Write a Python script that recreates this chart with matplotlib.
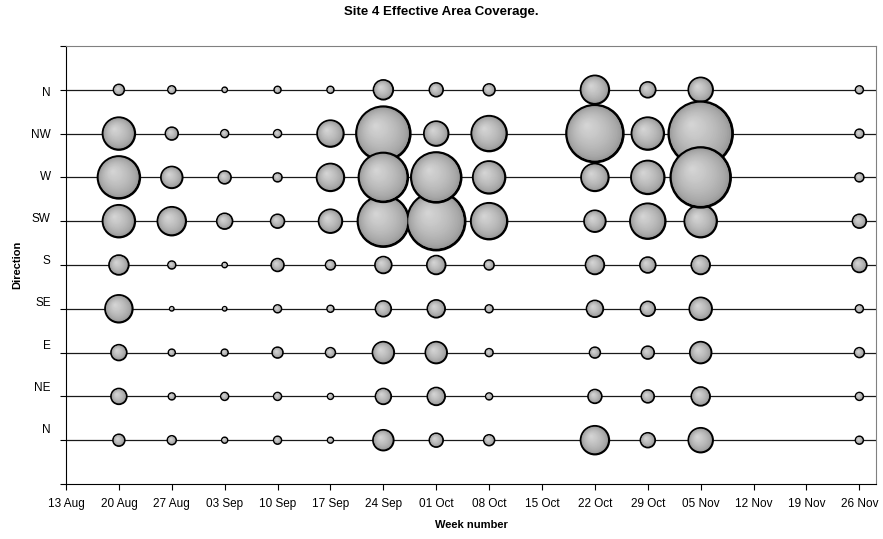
import numpy as np
import pandas as pd
import matplotlib
matplotlib.use("Agg")
import matplotlib.pyplot as plt
import matplotlib.dates as mdates

plt.rcParams['font.family'] = ['Liberation Sans', 'DejaVu Sans']

# weeks with data (13 Aug .. 26 Nov axis)
weeks = pd.to_datetime(["2007-08-20", "2007-08-27", "2007-09-03", "2007-09-10",
                        "2007-09-17", "2007-09-24", "2007-10-01", "2007-10-08",
                        "2007-10-22", "2007-10-29", "2007-11-05", "2007-11-26"])
tick_weeks = pd.date_range("2007-08-13", "2007-11-26", freq="7D")

# directions, top to bottom
directions = ["N", "NW", "W", "SW", "S", "SE", "E", "NE", "N"]

# effective area coverage (bubble area is proportional to value)
cov_n_top = [14.4, 8.1, 4.0, 6.4, 6.4, 44.1, 22.5, 16.9, 90.0, 28.9, 67.6, 8.1]
cov_nw = [115.6, 19.6, 8.1, 8.1, 78.4, 313.6, 67.6, 136.9, 348.1, 115.6, 435.6, 10.0]
cov_w = [193.6, 52.9, 19.6, 10.0, 84.1, 260.1, 270.4, 115.6, 84.1, 122.5, 384.4, 10.0]
cov_sw = [115.6, 90.0, 28.9, 22.5, 62.5, 280.9, 360.0, 144.4, 52.9, 136.9, 115.6, 22.5]
cov_s = [44.1, 8.1, 4.0, 19.6, 12.1, 32.4, 40.0, 12.1, 40.0, 28.9, 40.0, 25.6]
cov_se = [84.1, 2.9, 2.9, 8.1, 6.4, 28.9, 36.1, 8.1, 32.4, 25.6, 57.6, 8.1]
cov_e = [28.9, 6.4, 6.4, 14.4, 12.1, 52.9, 52.9, 8.1, 14.4, 19.6, 52.9, 12.1]
cov_ne = [28.9, 6.4, 8.1, 8.1, 4.9, 28.9, 36.1, 6.4, 22.5, 19.6, 40.0, 8.1]
cov_n_bot = [16.9, 10.0, 4.9, 8.1, 4.9, 48.4, 22.5, 14.4, 90.0, 25.6, 67.6, 8.1]

rows = [cov_n_top, cov_nw, cov_w, cov_sw, cov_s, cov_se, cov_e, cov_ne, cov_n_bot]
# drawing order (later on top)
draw_order = [8, 7, 6, 5, 4, 3, 0, 1, 2]

W, H, DPI = 883, 539, 100
fig = plt.figure(figsize=(W / DPI, H / DPI), dpi=DPI)
ax_l, ax_b, ax_w, ax_h = 66, 55, 810, 438
ax = fig.add_axes([ax_l / W, ax_b / H, ax_w / W, ax_h / H])

x0 = mdates.date2num(pd.Timestamp("2007-08-13"))
x1 = x0 + 107.2
ax.set_xlim(x0, x1)
ax.set_ylim(0, 10)
px_x = ax_w / (x1 - x0)
px_y = ax_h / 10.0

xs = mdates.date2num(weeks)
for yv in range(1, 10):
    ax.axhline(yv, color="#1a1a1a", lw=0.9, zorder=1)

lw_px = 2.8
n_layers = 22
dark = np.array([0.56, 0.56, 0.56])
light = np.array([0.83, 0.83, 0.83])
for j, ri in enumerate(draw_order):
    vals = np.array(rows[ri])
    yv = 9 - ri
    outer = np.sqrt(vals * 10.0) + 0.5
    base = outer - lw_px
    R = base / 2.0
    zb = 2 + j
    ax.scatter(xs, np.full(len(xs), yv), s=(base * 0.72) ** 2, c=[dark],
               edgecolors="black", linewidths=lw_px * 0.72, zorder=zb)
    for k in range(1, n_layers + 1):
        t = k / n_layers
        d = base * (1 - 0.92 * t)
        off = 0.28 * R * t
        col = dark + (light - dark) * (t ** 0.55)
        ax.scatter(xs - off / px_x, np.full(len(xs), yv) + off / px_y,
                   s=(d * 0.72) ** 2, c=[col], linewidths=0,
                   zorder=zb + k * 0.001)

# axes styling
for side in ["top", "right"]:
    ax.spines[side].set_color("#808080")
for side in ["left", "bottom"]:
    ax.spines[side].set_color("black")

ax.set_xticks(mdates.date2num(tick_weeks))
ax.xaxis.set_major_formatter(mdates.DateFormatter("%d %b"))
ax.tick_params(axis="x", length=4, direction="out", labelsize=8.5, pad=6)

ax.yaxis.remove_overlapping_locs = False
ax.set_yticks(range(0, 11))
ax.set_yticklabels([])
ax.tick_params(axis="y", which="major", length=4, direction="out")
lab_y = [9 - i + i * 0.0375 - 0.03 for i in range(9)]
ax.set_yticks(lab_y, minor=True)
ax.set_yticklabels(directions, minor=True)
ax.tick_params(axis="y", which="minor", length=0, labelsize=8.5, pad=11)

ax.set_xlabel("Week number", fontsize=8, fontweight="bold", labelpad=7)
ax.set_ylabel("Direction", fontsize=8, fontweight="bold", labelpad=6)
fig.suptitle("Site 4 Effective Area Coverage.", fontsize=9.5, fontweight="bold", y=0.988)

fig.savefig("out.png", dpi=DPI)
